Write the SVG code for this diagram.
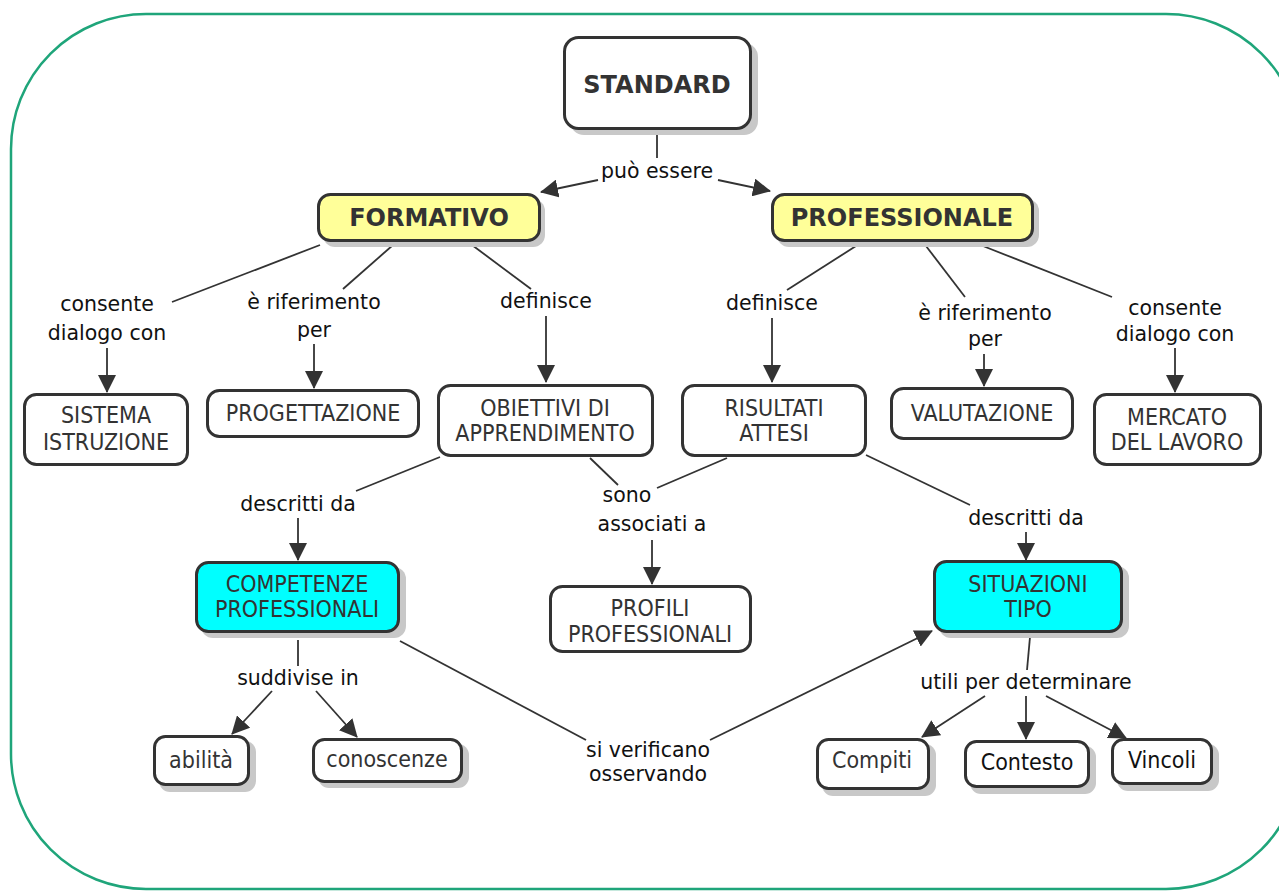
<svg xmlns="http://www.w3.org/2000/svg" width="1279" height="892" viewBox="0 0 1279 892">
  <style>
    .box { stroke: #333; stroke-width: 3; }
    .plain { fill: #fff; }
    .yellow { fill: #ffff99; }
    .cyan { fill: #00ffff; }
    .shadow { fill: #c8c8c8; }
    .title { font-family: "DejaVu Sans", Verdana, sans-serif; font-weight: bold; font-size: 24px; fill: #333; text-anchor: middle; }
    .txt { font-family: "DejaVu Sans", Verdana, sans-serif; font-stretch: condensed; font-size: 23px; fill: #333; text-anchor: middle; }
    .lbl { font-family: "DejaVu Sans", Verdana, sans-serif; font-size: 20.5px; fill: #111; text-anchor: middle; }
    .dark { fill: #111; }
    .conn line { stroke: #333; stroke-width: 1.8; fill: none; }
    .conn .arr { marker-end: url(#head); }
  </style>
  <defs>
    <marker id="head" viewBox="0 0 18 18" refX="17" refY="9" markerWidth="18" markerHeight="18" markerUnits="userSpaceOnUse" orient="auto">
      <path d="M0,0 L18,9 L0,18 Z" fill="#333"/>
    </marker>
  </defs>

  <rect width="1279" height="892" fill="#fff"/>
  <!-- outer frame -->
  <rect x="11" y="14" width="1290" height="875" rx="135" ry="135" fill="none" stroke="#1fa57a" stroke-width="2.5"/>

  <!-- connectors -->
  <g id="connectors" class="conn">
    <line x1="657" y1="131" x2="657" y2="158"/>
    <line class="arr" x1="598" y1="180" x2="541" y2="192"/>
    <line class="arr" x1="718" y1="180" x2="770" y2="191"/>

    <line x1="320" y1="245" x2="172" y2="302"/>
    <line x1="393" y1="245" x2="343" y2="289"/>
    <line x1="472" y1="245" x2="531" y2="289"/>
    <line class="arr" x1="107" y1="348" x2="107" y2="392"/>
    <line class="arr" x1="314" y1="344" x2="314" y2="388"/>
    <line class="arr" x1="546" y1="316" x2="546" y2="382"/>

    <line x1="856" y1="246" x2="787" y2="290"/>
    <line x1="926" y1="246" x2="965" y2="297"/>
    <line x1="983" y1="246" x2="1112" y2="297"/>
    <line class="arr" x1="772" y1="318" x2="772" y2="382"/>
    <line class="arr" x1="984" y1="354" x2="984" y2="386"/>
    <line class="arr" x1="1175" y1="348" x2="1175" y2="392"/>

    <line x1="440" y1="457" x2="356" y2="491"/>
    <line class="arr" x1="298" y1="518" x2="298" y2="560"/>
    <line x1="590" y1="458" x2="618" y2="485"/>
    <line x1="727" y1="458" x2="657" y2="488"/>
    <line class="arr" x1="652" y1="540" x2="652" y2="584"/>
    <line x1="866" y1="455" x2="970" y2="505"/>
    <line class="arr" x1="1026" y1="532" x2="1026" y2="560"/>

    <line x1="298" y1="640" x2="298" y2="666"/>
    <line class="arr" x1="272" y1="691" x2="232" y2="734"/>
    <line class="arr" x1="316" y1="691" x2="357" y2="737"/>
    <line x1="400" y1="641" x2="586" y2="740"/>
    <line class="arr" x1="710" y1="740" x2="932" y2="631"/>

    <line x1="1030" y1="637" x2="1027" y2="670"/>
    <line class="arr" x1="985" y1="696" x2="922" y2="737"/>
    <line class="arr" x1="1026" y1="696" x2="1026" y2="739"/>
    <line class="arr" x1="1046" y1="696" x2="1126" y2="738"/>
  </g>

  <!-- linking phrases -->
  <g id="labels">
    <text class="lbl" x="657" y="178">può essere</text>
    <text class="lbl" x="107" y="311">consente</text>
    <text class="lbl" x="107" y="340">dialogo con</text>
    <text class="lbl" x="314" y="309">è riferimento</text>
    <text class="lbl" x="314" y="337">per</text>
    <text class="lbl" x="546" y="308">definisce</text>
    <text class="lbl" x="772" y="310">definisce</text>
    <text class="lbl" x="985" y="320">è riferimento</text>
    <text class="lbl" x="985" y="346">per</text>
    <text class="lbl" x="1175" y="315">consente</text>
    <text class="lbl" x="1175" y="341">dialogo con</text>
    <text class="lbl" x="298" y="511">descritti da</text>
    <text class="lbl" x="627" y="502">sono</text>
    <text class="lbl" x="652" y="531">associati a</text>
    <text class="lbl" x="1026" y="525">descritti da</text>
    <text class="lbl" x="298" y="685">suddivise in</text>
    <text class="lbl" x="648" y="757">si verificano</text>
    <text class="lbl" x="648" y="781">osservando</text>
    <text class="lbl" x="1026" y="689">utili per determinare</text>
  </g>

  <!-- concepts -->
  <g id="standard">
    <rect class="shadow" x="570" y="43" width="188" height="92" rx="14"/>
    <rect class="box plain" x="564.5" y="37.5" width="186" height="91" rx="14"/>
    <text class="title" x="657" y="92.5">STANDARD</text>
  </g>
  <g id="formativo">
    <rect class="shadow" x="323" y="199" width="222" height="48" rx="12"/>
    <rect class="box yellow" x="318.5" y="194.5" width="221" height="46" rx="12"/>
    <text class="title" x="429" y="225.5">FORMATIVO</text>
  </g>
  <g id="professionale">
    <rect class="shadow" x="777" y="199" width="262" height="48" rx="12"/>
    <rect class="box yellow" x="772.5" y="194.5" width="260" height="46" rx="12"/>
    <text class="title" x="902" y="226">PROFESSIONALE</text>
  </g>
  <g id="sistema-istruzione">
    <rect class="box plain" x="24.5" y="394.5" width="163" height="70" rx="12"/>
    <text class="txt" x="106" y="423">SISTEMA</text>
    <text class="txt" x="106" y="450">ISTRUZIONE</text>
  </g>
  <g id="progettazione">
    <rect class="box plain" x="207.5" y="390.5" width="211" height="46" rx="12"/>
    <text class="txt" x="313" y="421">PROGETTAZIONE</text>
  </g>
  <g id="obiettivi">
    <rect class="box plain" x="438.5" y="385.5" width="214" height="70" rx="12"/>
    <text class="txt" x="545" y="416">OBIETTIVI DI</text>
    <text class="txt" x="545" y="441">APPRENDIMENTO</text>
  </g>
  <g id="risultati">
    <rect class="box plain" x="682.5" y="385.5" width="183" height="70" rx="12"/>
    <text class="txt" x="774" y="416">RISULTATI</text>
    <text class="txt" x="774" y="441">ATTESI</text>
  </g>
  <g id="valutazione">
    <rect class="box plain" x="891.5" y="388.5" width="181" height="50" rx="12"/>
    <text class="txt" x="982" y="421">VALUTAZIONE</text>
  </g>
  <g id="mercato">
    <rect class="box plain" x="1094.5" y="394.5" width="166" height="70" rx="12"/>
    <text class="txt" x="1177" y="425">MERCATO</text>
    <text class="txt" x="1177" y="450">DEL LAVORO</text>
  </g>
  <g id="competenze">
    <rect class="shadow" x="201" y="567" width="205" height="71" rx="12"/>
    <rect class="box cyan" x="196.5" y="562.5" width="202" height="69" rx="12"/>
    <text class="txt" x="297" y="592">COMPETENZE</text>
    <text class="txt" x="297" y="617">PROFESSIONALI</text>
  </g>
  <g id="profili">
    <rect class="box plain" x="550.5" y="586.5" width="200" height="65" rx="12"/>
    <text class="txt" x="650" y="616">PROFILI</text>
    <text class="txt" x="650" y="642">PROFESSIONALI</text>
  </g>
  <g id="situazioni">
    <rect class="shadow" x="939" y="566" width="190" height="72" rx="12"/>
    <rect class="box cyan" x="934.5" y="561.5" width="187" height="70" rx="12"/>
    <text class="txt" x="1028" y="592">SITUAZIONI</text>
    <text class="txt" x="1028" y="617">TIPO</text>
  </g>
  <g id="abilita">
    <rect class="shadow" x="159" y="741" width="97" height="51" rx="11"/>
    <rect class="box plain" x="154.5" y="736.5" width="94" height="48" rx="11"/>
    <text class="txt" x="201" y="768">abilità</text>
  </g>
  <g id="conoscenze">
    <rect class="shadow" x="318" y="744" width="151" height="44" rx="11"/>
    <rect class="box plain" x="313.5" y="739.5" width="148" height="42" rx="11"/>
    <text class="txt" x="387" y="767">conoscenze</text>
  </g>
  <g id="compiti">
    <rect class="shadow" x="822" y="744" width="114" height="52" rx="11"/>
    <rect class="box plain" x="817.5" y="739.5" width="111" height="49" rx="11"/>
    <text class="txt" x="872" y="768">Compiti</text>
  </g>
  <g id="contesto">
    <rect class="shadow" x="970" y="746" width="126" height="48" rx="11"/>
    <rect class="box plain" x="965.5" y="741.5" width="123" height="45" rx="11"/>
    <text class="txt dark" x="1027" y="770">Contesto</text>
  </g>
  <g id="vincoli">
    <rect class="shadow" x="1117" y="744" width="102" height="47" rx="11"/>
    <rect class="box plain" x="1112.5" y="739.5" width="99" height="44" rx="11"/>
    <text class="txt dark" x="1162" y="768">Vincoli</text>
  </g>
</svg>
